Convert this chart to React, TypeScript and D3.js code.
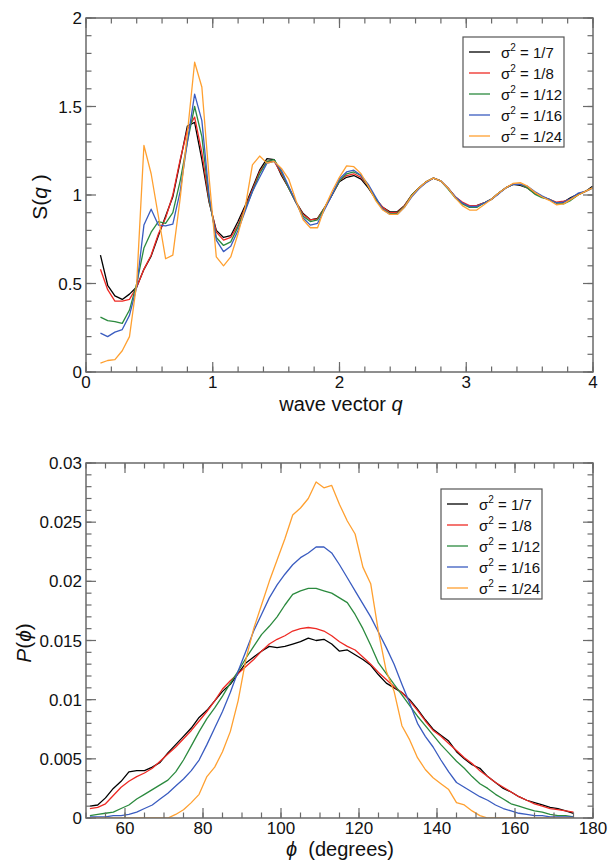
import React from "react";
import * as d3 from "d3";

const seriesNames = ["1/7", "1/8", "1/12", "1/16", "1/24"];
const seriesColors = ["#000000", "#ee2a24", "#2b8a3e", "#3a5cc0", "#ffa030"];

// ---- top panel: S(q) ----
const qValues = [0.114,0.171,0.228,0.286,0.343,0.400,0.457,0.514,0.571,0.628,0.685,0.743,0.800,0.857,0.914,0.971,1.028,1.085,1.142,1.199,1.256,1.313,1.370,1.428,1.485,1.542,1.599,1.656,1.713,1.770,1.827,1.884,1.941,1.999,2.056,2.113,2.170,2.227,2.284,2.341,2.398,2.455,2.512,2.570,2.627,2.684,2.741,2.798,2.855,2.912,2.969,3.026,3.083,3.140,3.197,3.254,3.311,3.368,3.426,3.483,3.540,3.597,3.654,3.711,3.768,3.825,3.882,3.940,3.997];

const sq7 = [0.66,0.49,0.43,0.41,0.44,0.48,0.58,0.655,0.77,0.88,0.99,1.19,1.39,1.41,1.20,0.96,0.80,0.76,0.77,
  0.85,0.94,1.04,1.14,1.205,1.20,1.11,1.04,0.96,0.895,0.86,0.868,0.93,1.00,1.075,1.10,1.11,1.09,1.04,0.98,0.93,0.905,0.905,0.94,1.00,1.04,1.075,1.095,1.08,1.04,0.99,0.955,0.935,0.94,0.955,0.975,1.01,1.04,1.06,1.055,1.04,1.01,0.99,0.975,0.955,0.96,0.985,1.005,1.02,1.05];
const sq8 = [0.58,0.465,0.40,0.40,0.41,0.48,0.58,0.66,0.78,0.87,1.0,1.2,1.37,1.44,1.24,0.97,0.79,0.745,0.76,
  0.83,0.93,1.03,1.13,1.19,1.19,1.12,1.04,0.96,0.89,0.86,0.865,0.93,1.00,1.08,1.11,1.12,1.10,1.05,0.98,0.93,0.90,0.90,0.94,1.0,1.04,1.075,1.095,1.08,1.04,0.99,0.96,0.94,0.94,0.955,0.975,1.01,1.04,1.06,1.06,1.04,1.01,0.99,0.975,0.96,0.965,0.975,1.0,1.02,1.04];
const sq12 = [0.31,0.29,0.285,0.275,0.35,0.50,0.70,0.79,0.85,0.84,0.90,1.08,1.30,1.50,1.33,0.98,0.76,0.715,0.735,
  0.82,0.92,1.02,1.12,1.19,1.20,1.13,1.04,0.96,0.88,0.85,0.86,0.93,1.00,1.08,1.12,1.13,1.11,1.05,0.98,0.92,0.895,0.895,0.935,1.0,1.04,1.075,1.095,1.08,1.035,0.985,0.95,0.93,0.93,0.955,0.975,1.01,1.04,1.06,1.06,1.04,1.005,0.985,0.975,0.955,0.95,0.97,1.0,1.02,1.04];
const sq16 = [0.22,0.20,0.225,0.24,0.32,0.48,0.83,0.92,0.83,0.825,0.835,1.02,1.30,1.57,1.42,1.0,0.745,0.68,0.71,
  0.80,0.91,1.02,1.10,1.18,1.19,1.14,1.05,0.96,0.87,0.83,0.84,0.92,1.00,1.09,1.13,1.14,1.11,1.06,0.99,0.92,0.89,0.89,0.93,0.99,1.035,1.07,1.095,1.08,1.04,0.99,0.955,0.935,0.935,0.955,0.975,1.005,1.04,1.06,1.06,1.05,1.02,0.995,0.975,0.955,0.96,0.98,1.01,1.02,1.04];
const sq24 = [0.05,0.065,0.07,0.12,0.20,0.50,1.28,1.12,0.88,0.64,0.66,0.98,1.35,1.75,1.61,1.10,0.65,0.60,0.65,
  0.78,0.93,1.17,1.22,1.18,1.19,1.15,1.09,0.97,0.86,0.815,0.815,0.93,1.02,1.10,1.165,1.16,1.12,1.05,0.97,0.915,0.89,0.89,0.93,0.995,1.04,1.075,1.095,1.08,1.04,0.985,0.94,0.915,0.915,0.945,0.975,1.01,1.04,1.065,1.07,1.05,1.015,0.99,0.97,0.945,0.95,0.975,1.0,1.02,1.04];
const sqSeries = [sq7, sq8, sq12, sq16, sq24];

const topXMajor = [0, 1, 2, 3, 4];
const topXLabels = ["0", "1", "2", "3", "4"];
const topYMajor = [0, 0.5, 1, 1.5, 2];
const topYLabels = ["0", "0.5", "1", "1.5", "2"];

// ---- bottom panel: P(phi) ----
const phiValues = [51,53,55,57,59,61,63,65,67,69,71,73,75,77,79,81,83,85,87,89,91,93,95,97,99,101,103,105,107,109,111,113,115,117,119,121,123,125,127,129,131,133,135,137,139,141,143,145,147,149,151,153,155,157,159,161,163,165,167,169,171,173,175];

const p7 = [0.0010,0.0011,0.0017,0.0025,0.0031,0.0039,0.0040,0.0040,0.0043,0.0047,0.0055,0.0062,0.0069,0.0076,0.0085,0.0091,0.0099,0.0107,0.0113,0.0122,0.0131,0.0136,0.0141,0.0145,0.0144,0.0145,0.0147,0.0149,0.0152,0.0150,0.0151,0.0147,0.0141,0.0142,0.0138,0.0134,0.0129,0.0121,0.0114,0.0110,0.0106,0.0100,0.0092,0.0083,0.0075,0.0070,0.0065,0.0056,0.0050,0.0045,0.0042,0.0035,0.0030,0.0025,0.0022,0.0018,0.0015,0.0013,0.0011,0.0009,0.0008,0.0006,0.0004];
const p8 = [0.0008,0.0009,0.0012,0.0019,0.0026,0.0031,0.0035,0.0038,0.0042,0.0048,0.0054,0.0060,0.0067,0.0074,0.0082,0.0090,0.0099,0.0109,0.0116,0.0122,0.0128,0.0134,0.0141,0.0147,0.0151,0.0154,0.0158,0.0160,0.0161,0.0160,0.0158,0.0154,0.0149,0.0145,0.0142,0.0136,0.0130,0.0123,0.0117,0.0111,0.0106,0.0099,0.0091,0.0082,0.0074,0.0069,0.0063,0.0057,0.0051,0.0046,0.0040,0.0035,0.0030,0.0026,0.0022,0.0018,0.0015,0.0012,0.0010,0.0008,0.0007,0.0006,0.0005];
const p12 = [0.0002,0.0003,0.0004,0.0005,0.0008,0.0011,0.0016,0.0020,0.0024,0.0028,0.0032,0.0039,0.0049,0.0061,0.0073,0.0084,0.0093,0.0103,0.0114,0.0124,0.0135,0.0145,0.0155,0.0162,0.0170,0.0180,0.0189,0.0192,0.0194,0.0194,0.0192,0.0190,0.0186,0.0182,0.0172,0.0160,0.0146,0.0131,0.0122,0.0113,0.0104,0.0095,0.0086,0.0078,0.0070,0.0062,0.0055,0.0048,0.0042,0.0035,0.0029,0.0025,0.0020,0.0016,0.0012,0.0010,0.0008,0.0006,0.0005,0.0003,0.0002,0.0002,0.0001];
const p16 = [0.0001,0.0001,0.0001,0.0002,0.0002,0.0003,0.0005,0.0008,0.0011,0.0016,0.0021,0.0027,0.0033,0.0040,0.0049,0.0062,0.0076,0.0090,0.0106,0.0124,0.0141,0.0158,0.0172,0.0186,0.0197,0.0206,0.0214,0.0220,0.0224,0.0229,0.0229,0.0224,0.0214,0.0203,0.0192,0.0181,0.0170,0.0157,0.0144,0.0130,0.0113,0.0097,0.0080,0.0069,0.0060,0.0049,0.0039,0.0030,0.0026,0.0022,0.0018,0.0015,0.0011,0.0008,0.0006,0.0004,0.0003,0.0002,0.0002,0.0001,0.0001,0.0001,0.0001];
const p24 = [0,0,0,0,0,0,0,0,0,0,0,0.0003,0.0007,0.0013,0.0020,0.0035,0.0043,0.0056,0.0073,0.0099,0.0134,0.0160,0.0180,0.0200,0.0218,0.0236,0.0256,0.0262,0.0270,0.0284,0.0279,0.0281,0.0265,0.0251,0.0240,0.0212,0.0198,0.0157,0.0124,0.0107,0.0078,0.0066,0.0051,0.0041,0.0034,0.0029,0.0024,0.0013,0.0011,0.0006,0.0002,0,0,0,0,0,0,0,0,0,0,0,0];
const pSeries = [p7, p8, p12, p16, p24];

const botXMajor = [60, 80, 100, 120, 140, 160, 180];
const botXLabels = ["60", "80", "100", "120", "140", "160", "180"];
const botYMajor = [0, 0.005, 0.01, 0.015, 0.02, 0.025, 0.03];
const botYLabels = ["0", "0.005", "0.01", "0.015", "0.02", "0.025", "0.03"];

const FONT = "'Liberation Sans', Arial, Helvetica, sans-serif";
const AXIS = "#6a6a6a";

type PanelProps = {
  id: string;
  x: d3.ScaleLinear<number, number>;
  y: d3.ScaleLinear<number, number>;
  xMajor: number[]; xLabels: string[]; xMinor: number[];
  yMajor: number[]; yLabels: string[]; yMinor: number[];
  xs: number[]; series: number[][];
  legend: { x: number; y: number; w: number; h: number };
};

function Panel(p: PanelProps) {
  const [x0, x1] = p.x.range();
  const [y0, y1] = p.y.range(); // y0 bottom, y1 top
  const line = (vals: number[]) =>
    d3.line<number>().x((_, i) => p.x(p.xs[i])).y((v) => p.y(v))(vals) || "";
  const MAJ = 10, MIN = 5.5;
  return (
    <g>
      <defs>
        <clipPath id={p.id}>
          <rect x={x0} y={y1} width={x1 - x0} height={y0 - y1} />
        </clipPath>
      </defs>
      <g clipPath={`url(#${p.id})`}>
        {p.series.map((s, i) => (
          <path key={i} d={line(s)} fill="none" stroke={seriesColors[i]} strokeWidth={1.3} strokeLinejoin="round" />
        ))}
      </g>
      <g stroke={AXIS} strokeWidth={1.2}>
        {p.xMinor.map((v, i) => (
          <g key={"xm" + i}>
            <line x1={p.x(v)} x2={p.x(v)} y1={y0} y2={y0 - MIN} />
            <line x1={p.x(v)} x2={p.x(v)} y1={y1} y2={y1 + MIN} />
          </g>
        ))}
        {p.xMajor.map((v, i) => (
          <g key={"xM" + i}>
            <line x1={p.x(v)} x2={p.x(v)} y1={y0} y2={y0 - MAJ} />
            <line x1={p.x(v)} x2={p.x(v)} y1={y1} y2={y1 + MAJ} />
          </g>
        ))}
        {p.yMinor.map((v, i) => (
          <g key={"ym" + i}>
            <line x1={x0} x2={x0 + MIN} y1={p.y(v)} y2={p.y(v)} />
            <line x1={x1} x2={x1 - MIN} y1={p.y(v)} y2={p.y(v)} />
          </g>
        ))}
        {p.yMajor.map((v, i) => (
          <g key={"yM" + i}>
            <line x1={x0} x2={x0 + MAJ} y1={p.y(v)} y2={p.y(v)} />
            <line x1={x1} x2={x1 - MAJ} y1={p.y(v)} y2={p.y(v)} />
          </g>
        ))}
      </g>
      <rect x={x0} y={y1} width={x1 - x0} height={y0 - y1} fill="none" stroke={AXIS} strokeWidth={1.5} />
      <g fontFamily={FONT} fontSize={17} fill="#111">
        {p.xMajor.map((v, i) => (
          <text key={"xl" + i} x={p.x(v)} y={y0 + 16} textAnchor="middle">{p.xLabels[i]}</text>
        ))}
        {p.yMajor.map((v, i) => (
          <text key={"yl" + i} x={x0 - 4} y={p.y(v) + 6} textAnchor="end">{p.yLabels[i]}</text>
        ))}
      </g>
      <g>
        <rect x={p.legend.x} y={p.legend.y} width={p.legend.w} height={p.legend.h} fill="#fff" stroke="#555" strokeWidth={1.2} />
        {seriesNames.map((n, i) => {
          const yy = p.legend.y + 15 + i * 21;
          return (
            <g key={n}>
              <line x1={p.legend.x + 6} x2={p.legend.x + 27} y1={yy} y2={yy} stroke={seriesColors[i]} strokeWidth={1.3} />
              <text x={p.legend.x + 38} y={yy + 6} fontFamily={FONT} fontSize={15} fill="#111">
                σ<tspan dy={-7} fontSize={10}>2</tspan><tspan dy={7}>{" = " + n}</tspan>
              </text>
            </g>
          );
        })}
      </g>
    </g>
  );
}

export default function App() {
  const xTop = d3.scaleLinear().domain([0, 4]).range([86, 593]);
  const yTop = d3.scaleLinear().domain([0, 2]).range([372, 18]);
  const xBot = d3.scaleLinear().domain([50, 180]).range([86, 593]);
  const yBot = d3.scaleLinear().domain([0, 0.03]).range([818, 463]);

  const topXMinor = d3.range(0, 4.0001, 0.2);
  const topYMinor = d3.range(0, 2.0001, 0.1);
  const botXMinor = d3.range(50, 180.001, 5);
  const botYMinor = d3.range(0, 0.03001, 0.001);

  return (
    <svg width={609} height={862} style={{ position: "absolute", left: 0, top: 0, background: "#fff" }}>
      <rect x={0} y={0} width={609} height={862} fill="#fff" />
      <Panel id="clipTop" x={xTop} y={yTop}
        xMajor={topXMajor} xLabels={topXLabels} xMinor={topXMinor}
        yMajor={topYMajor} yLabels={topYLabels} yMinor={topYMinor}
        xs={qValues} series={sqSeries}
        legend={{ x: 463, y: 37, w: 101, h: 110 }} />
      <Panel id="clipBot" x={xBot} y={yBot}
        xMajor={botXMajor} xLabels={botXLabels} xMinor={botXMinor}
        yMajor={botYMajor} yLabels={botYLabels} yMinor={botYMinor}
        xs={phiValues} series={pSeries}
        legend={{ x: 441, y: 489, w: 101, h: 110 }} />
      <text x={341} y={411} textAnchor="middle" fontFamily={FONT} fontSize={20} fill="#111">
        wave vector <tspan fontStyle="italic">q</tspan>
      </text>
      <text transform="translate(47,197) rotate(-90)" textAnchor="middle" fontFamily={FONT} fontSize={21} fill="#111">
        S(<tspan fontStyle="italic">q</tspan> )
      </text>
      <text transform="translate(31,643) rotate(-90)" textAnchor="middle" fontFamily={FONT} fontSize={21} fill="#111">
        <tspan fontStyle="italic">P</tspan>(<tspan fontStyle="italic">ϕ</tspan>)
      </text>
      <text x={340} y={856} textAnchor="middle" fontFamily={FONT} fontSize={20} fill="#111" xmlSpace="preserve">
        <tspan fontStyle="italic">ϕ</tspan>{"  (degrees)"}
      </text>
    </svg>
  );
}
